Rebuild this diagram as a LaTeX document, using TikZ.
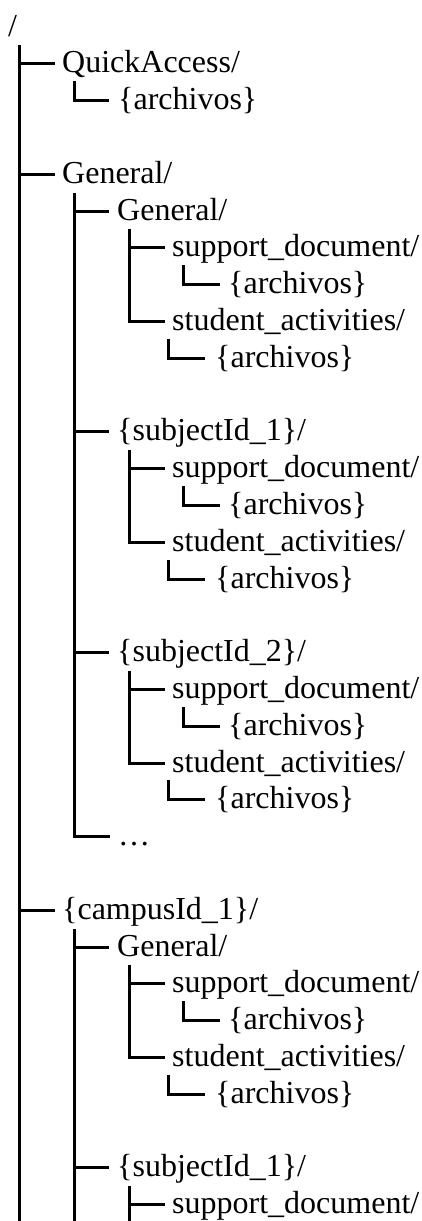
\documentclass[tikz,border=0pt]{standalone}
\usepackage{fontspec}
\setmainfont{Liberation Serif}

% One branch of a subject folder: heading, support_document/ and student_activities/,
% each holding {archivos}.  #1 name prefix, #2 row of the heading, #3 heading text.
\newcommand\subjectbranch[3]{%
  \node[entry] (#1) at (117,{row(#2)}) {#3};
  \node[entry] (#1s) at (172,{row(#2+1)}) {support\_document/};
  \node[entry] (#1sf) at (228,{row(#2+2)}) {\{archivos\}};
  \node[entry] (#1a) at (172,{row(#2+3)}) {student\_activities/};
  \node[entry] (#1af) at (215,{row(#2+4)}) {\{archivos\}};
  \coordinate (#1t) at (129,{row(#2+1)-26});
  \draw[branch] (#1t |- #1s.west) -- ([xshift=-9pt]#1s.west);
  \draw[branch] (#1t) |- ([xshift=-9pt]#1a.west);
  \coordinate (#1sc) at (183,{row(#2+2)-27});
  \draw[branch] (#1sc) |- ([xshift=-10pt]#1sf.west);
  \coordinate (#1ac) at (168,{row(#2+4)-27});
  \draw[branch] (#1ac) |- ([xshift=-12pt]#1af.west);
}

\begin{document}
\begin{tikzpicture}[x=1pt,y=-1pt,
  declare function={row(\n)=36+(\n-1)*36.8;},
  entry/.style={anchor=base west, inner sep=0pt, text height=23pt, text depth=5pt,
                font=\fontsize{32}{36.8}\selectfont},
  branch/.style={line width=3pt, line join=miter, line cap=rect},
]
\fill[white] (0,0) rectangle (422,1221);
\useasboundingbox (0,0) rectangle (422,1221);

% root and first level
\node[entry] (root) at (8,{row(1)}) {/};
\node[entry] (qa)   at (62,{row(2)}) {QuickAccess/};
\node[entry] (qaF)  at (118,{row(3)}) {\{archivos\}};
\node[entry] (gen)  at (62,{row(5)}) {General/};
\node[entry] (camp) at (62,{row(25)}) {\{campusId\_1\}/};

% root trunk, running on past the bottom edge
\coordinate (t0) at (19,{row(2)-26});
\coordinate (t0end) at (19,1225);
\draw[branch] (t0) -- (t0end);
\foreach \c in {qa,gen,camp}
  \draw[branch] (t0 |- \c.west) -- ([xshift=-9pt]\c.west);

% QuickAccess/ contents
\coordinate (qac) at (74,{row(3)-27});
\draw[branch] (qac) |- ([xshift=-11pt]qaF.west);

% General/ contents
\subjectbranch{gG}{6}{General/}
\subjectbranch{gA}{12}{\{subjectId\_1\}/}
\subjectbranch{gB}{18}{\{subjectId\_2\}/}
\node[entry] (dots) at (118,{row(23)}) {…};
\coordinate (t1) at (74,{row(6)-26});
\foreach \c in {gG,gA,gB}
  \draw[branch] (t1 |- \c.west) -- ([xshift=-10pt]\c.west);
\draw[branch] (t1) |- ([xshift=-10pt]dots.west);

% {campusId_1}/ contents
\subjectbranch{cG}{26}{General/}
\node[entry] (cA)  at (117,{row(32)}) {\{subjectId\_1\}/};
\node[entry] (cAs) at (172,{row(33)}) {support\_document/};
\coordinate (t2) at (74,{row(26)-26});
\coordinate (t2end) at (74,1225);
\draw[branch] (t2) -- (t2end);
\foreach \c in {cG,cA}
  \draw[branch] (t2 |- \c.west) -- ([xshift=-10pt]\c.west);
\coordinate (cAt) at (129,{row(33)-26});
\coordinate (cAtend) at (129,1225);
\draw[branch] (cAt) -- (cAtend);
\draw[branch] (cAt |- cAs.west) -- ([xshift=-9pt]cAs.west);
\end{tikzpicture}
\end{document}
